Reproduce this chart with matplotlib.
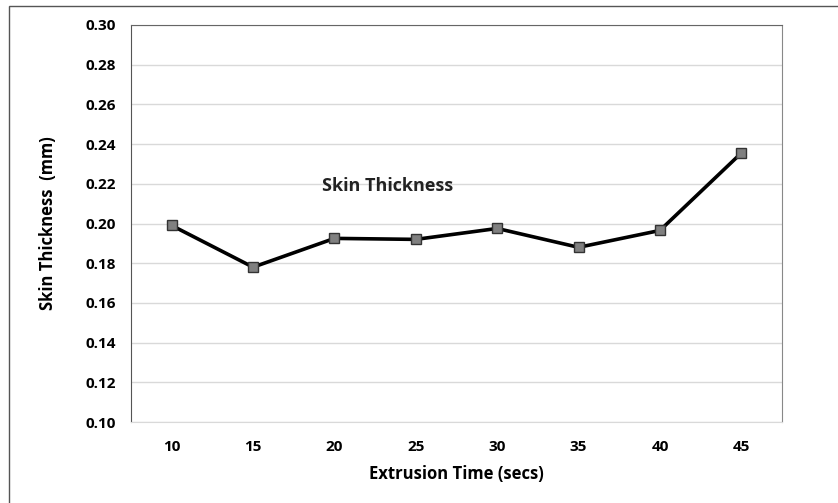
import matplotlib.pyplot as plt
from matplotlib.patches import Rectangle

# Werte
times = ["10", "15", "20", "25", "30", "35", "40", "45"]
thickness = [0.199, 0.178, 0.1925, 0.192, 0.1975, 0.188, 0.1965, 0.2355]
yticks = [0.10, 0.12, 0.14, 0.16, 0.18, 0.20, 0.22, 0.24, 0.26, 0.28, 0.30]

plt.rcParams['font.family'] = ['Open Sans', 'DejaVu Sans']
plt.rcParams['font.weight'] = 'bold'

fig = plt.figure(figsize=(8.38, 5.03), dpi=100)
ax = fig.add_axes([131/838, 1 - 422/503, (782 - 131)/838, (422 - 25)/503])

# Rahmen um die ganze Grafik (rechts/unten abgeschnitten)
fig.patches.append(Rectangle((9/838, -0.05), 1.2, 1 - 6/503 + 0.05,
                             transform=fig.transFigure, fill=False,
                             edgecolor='#555555', linewidth=1.0))

x = list(range(len(times)))
ax.plot(x, thickness, color='black', linewidth=2.6, marker='s', markersize=6.5,
        markerfacecolor='#808080', markeredgecolor='#333333', markeredgewidth=1.0,
        zorder=3)

ax.set_xlim(-0.5, len(times) - 0.5)
ax.set_ylim(0.10, 0.30)
ax.set_xticks(x)
ax.set_xticklabels(times)
ax.set_yticks(yticks)
ax.set_yticklabels([f"{v:.2f}" for v in yticks])
ax.tick_params(length=0, labelsize=11, pad=13)
ax.tick_params(axis='y', pad=11)

ax.grid(axis='y', color='#d9d9d9', linewidth=1.0)
ax.set_axisbelow(True)
ax.spines['left'].set_color('#555555')
ax.spines['top'].set_color('#666666')
ax.spines['right'].set_color('#888888')
ax.spines['bottom'].set_color('#d9d9d9')

ax.set_xlabel("Extrusion Time (secs)", fontsize=12, fontweight='bold', labelpad=8)
ax.set_ylabel("Skin Thickness  (mm)", fontsize=12, fontweight='bold', labelpad=20)
ax.text(2.65, 0.219, "Skin Thickness", fontsize=13, fontweight='bold',
        ha='center', va='center', color='#222222')

fig.savefig("out.png", dpi=100)
